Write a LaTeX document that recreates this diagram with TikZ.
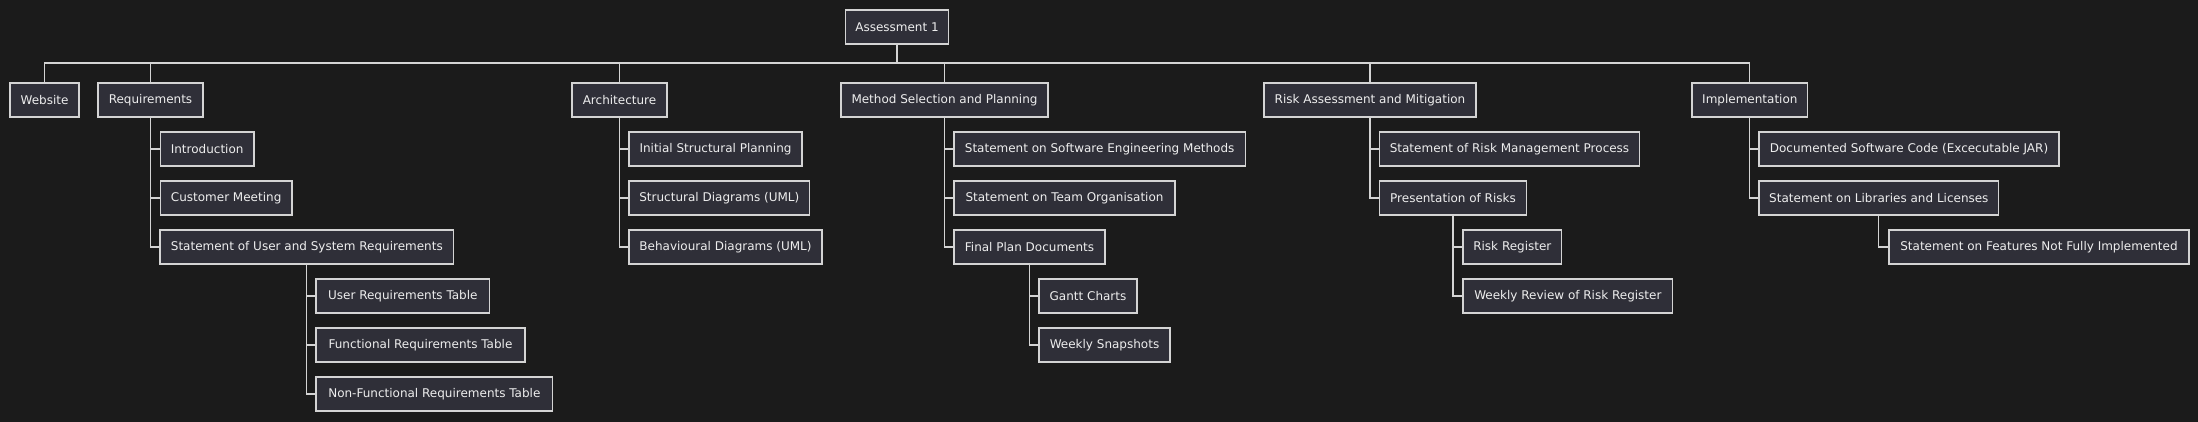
\documentclass[tikz,border=0pt]{standalone}
\usepackage{fontspec}
\setmainfont{DejaVu Sans}
\definecolor{bgc}{HTML}{1B1B1B}
\definecolor{boxfill}{HTML}{2F2F38}
\definecolor{boxline}{HTML}{D4D4D4}
\definecolor{txt}{HTML}{EEEEEE}
\begin{document}
\begin{tikzpicture}[x=1pt,y=-1pt,
  wbs/.style={draw=boxline, fill=boxfill, line width=1.1pt, text=txt,
    font=\fontsize{12}{14}\selectfont, minimum height=34pt, inner xsep=6pt, inner ysep=0pt, anchor=center},
  link/.style={draw=boxline, line width=1.1pt}]
\useasboundingbox (0,0) rectangle (2198,421);
\fill[bgc] (-5,-5) rectangle (2203,426);
% placement: at ((l+r)/2, top+17), minimum width r-l
\node[wbs, minimum width=103.4pt] (root) at (897,27) {Assessment 1};
% level 1 (top 83)
\node[wbs, minimum width=69pt]    (web)  at (44.5,100) {Website};
\node[wbs, minimum width=105pt]   (req)  at (150.5,100) {Requirements};
\node[wbs, minimum width=95pt]    (arch) at (619.5,100) {Architecture};
\node[wbs, minimum width=207pt]   (meth) at (944.5,100) {Method Selection and Planning};
\node[wbs, minimum width=212pt]   (risk) at (1370,100) {Risk Assessment and Mitigation};
\node[wbs, minimum width=115.7pt] (impl) at (1749.85,100) {Implementation};
% Requirements children
\node[wbs, minimum width=93.7pt]  (intro) at (207.15,149) {Introduction};
\node[wbs, minimum width=131.7pt] (cust)  at (226.15,198) {Customer Meeting};
\node[wbs, minimum width=293.7pt] (stmt)  at (306.85,247) {Statement of User and System Requirements};
\node[wbs, minimum width=173.7pt] (urt)   at (402.85,296) {User Requirements Table};
\node[wbs, minimum width=209pt]   (frt)   at (420.5,345) {Functional Requirements Table};
\node[wbs, minimum width=236.7pt] (nfrt)  at (434.35,394) {Non-Functional Requirements Table};
% Architecture children
\node[wbs, minimum width=173pt]   (isp) at (715.5,149) {Initial Structural Planning};
\node[wbs, minimum width=180.7pt] (sd)  at (719.35,198) {Structural Diagrams (UML)};
\node[wbs, minimum width=193pt]   (bd)  at (725.5,247) {Behavioural Diagrams (UML)};
% Method children
\node[wbs, minimum width=291.3pt] (sem) at (1099.65,149) {Statement on Software Engineering Methods};
\node[wbs, minimum width=221pt]   (sto) at (1064.5,198) {Statement on Team Organisation};
\node[wbs, minimum width=151pt]   (fpd) at (1029.5,247) {Final Plan Documents};
\node[wbs, minimum width=98pt]    (gc)  at (1088,296) {Gantt Charts};
\node[wbs, minimum width=131pt]   (ws)  at (1104.5,345) {Weekly Snapshots};
% Risk children
\node[wbs, minimum width=260.4pt] (srm) at (1509.5,149) {Statement of Risk Management Process};
\node[wbs, minimum width=147.4pt] (por) at (1453,198) {Presentation of Risks};
\node[wbs, minimum width=98.7pt]  (rr)  at (1512.35,247) {Risk Register};
\node[wbs, minimum width=209.7pt] (wrr) at (1567.85,296) {Weekly Review of Risk Register};
% Implementation children
\node[wbs, minimum width=300pt]   (dsc)  at (1909,149) {Documented Software Code (Excecutable JAR)};
\node[wbs, minimum width=239.7pt] (slic) at (1878.85,198) {Statement on Libraries and Licenses};
\node[wbs, minimum width=300pt]   (sfni) at (2039,247) {Statement on Features Not Fully Implemented};
% top-level bus
\coordinate (bus) at (897,63);
\draw[link] (root.south) -- (root.south |- bus);
\draw[link] (web.north) -- (web.north |- bus) -| (impl.north);
\foreach \n in {req,arch,meth,risk}{\draw[link] (\n.north) -- (\n.north |- bus);}
% tree connectors
\foreach \p/\c in {req/intro,req/cust,req/stmt,stmt/urt,stmt/frt,stmt/nfrt,
  arch/isp,arch/sd,arch/bd,meth/sem,meth/sto,meth/fpd,fpd/gc,fpd/ws,
  risk/srm,risk/por,por/rr,por/wrr,impl/dsc,impl/slic,slic/sfni}
  {\draw[link] (\p.south) |- (\c.west);}
\end{tikzpicture}
\end{document}
